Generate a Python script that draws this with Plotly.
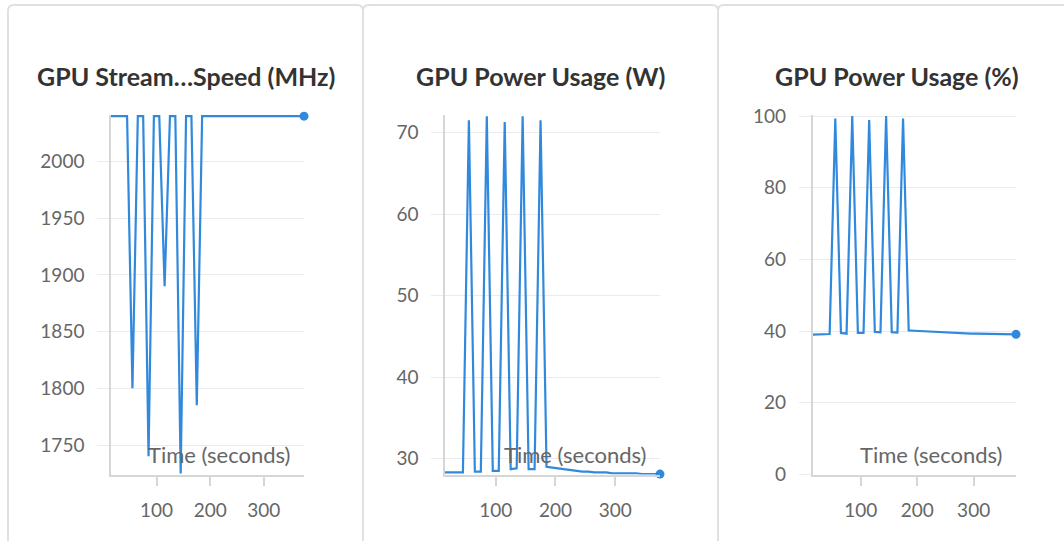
import plotly.graph_objects as go

# ---------------- data ----------------
time_s = [15, 25, 35, 45, 55, 65, 75, 85, 95, 105, 115, 125, 135, 145, 155, 165, 175,
          185, 195, 205, 215, 225, 235, 245, 255, 265, 275, 285, 295, 305, 315, 325,
          335, 345, 355, 365, 375]

sm_clock_mhz = [2040, 2040, 2040, 2040, 1800, 2040, 2040, 1740, 2040, 2040, 1890, 2040,
                2040, 1725, 2040, 2040, 1785, 2040, 2040, 2040, 2040, 2040, 2040, 2040,
                2040, 2040, 2040, 2040, 2040, 2040, 2040, 2040, 2040, 2040, 2040, 2040, 2040]

power_w = [28.3, 28.3, 28.3, 28.3, 71.5, 28.4, 28.4, 72.0, 28.5, 28.5, 71.3, 28.7,
           28.8, 72.0, 28.7, 28.7, 71.5, 29.0, 28.9, 28.8, 28.7, 28.6, 28.5, 28.4,
           28.4, 28.3, 28.3, 28.3, 28.2, 28.2, 28.2, 28.2, 28.2, 28.1, 28.1, 28.1, 28.1]

power_pct = [39.0, 39.1, 39.1, 39.2, 99.3, 39.5, 39.3, 100.0, 39.5, 39.5, 98.9, 39.8,
             39.7, 100.0, 39.7, 39.6, 99.3, 40.2, 40.1, 40.0, 39.9, 39.8, 39.7, 39.6,
             39.5, 39.5, 39.4, 39.4, 39.3, 39.3, 39.3, 39.2, 39.2, 39.2, 39.1, 39.1, 39.1]

titles = ["GPU Stream…Speed (MHz)", "GPU Power Usage (W)", "GPU Power Usage (%)"]
x_title = "Time (seconds)"
x_ticks = [100, 200, 300]
y_ticks_clock = [1750, 1800, 1850, 1900, 1950, 2000]
y_ticks_w = [30, 40, 50, 60, 70]
y_ticks_pct = [0, 20, 40, 60, 80, 100]

# ---------------- styling / layout ----------------
W, H = 1064, 541
LINE = "#3089dd"
GRID = "#ebebeb"
AXIS = "#d6d6d6"
FONT = "Lato"
LABEL = "#666666"

plot_top, plot_bottom = 115, 474.5
panels = [
    dict(x0=111, x1=304, card=(8, 363), y=sm_clock_mhz, ticks=y_ticks_clock, rng=[1724, 2041]),
    dict(x0=445, x1=660, card=(363, 718), y=power_w, ticks=y_ticks_w, rng=[28.05, 72.15]),
    dict(x0=812.7, x1=1016, card=(718, 1075), y=power_pct, ticks=y_ticks_pct, rng=[0, 100.3]),
]

fig = go.Figure()
shapes = []
annotations = []

for i, p in enumerate(panels):
    n = "" if i == 0 else str(i + 1)
    xa, ya = "x" + n, "y" + n
    fig.add_trace(go.Scatter(x=time_s, y=p["y"], mode="lines", xaxis=xa, yaxis=ya,
                             line=dict(color=LINE, width=2.2), showlegend=False,
                             hoverinfo="x+y"))
    fig.add_trace(go.Scatter(x=[time_s[-1]], y=[p["y"][-1]], mode="markers", xaxis=xa, yaxis=ya,
                             marker=dict(color=LINE, size=9), cliponaxis=False,
                             showlegend=False))
    dom_x = [p["x0"] / W, p["x1"] / W]
    dom_y = [1 - plot_bottom / H, 1 - plot_top / H]
    fig.layout["xaxis" + n] = dict(
        domain=dom_x, anchor=ya, range=[time_s[0], time_s[-1]], automargin=False,
        tickvals=x_ticks, showgrid=False, zeroline=False,
        showline=True, linecolor=AXIS, linewidth=1.5,
        ticks="outside", ticklen=10, tickcolor=AXIS, tickwidth=1.5,
        ticklabelstandoff=8,
        tickfont=dict(family=FONT, size=19, color=LABEL),
    )
    fig.layout["yaxis" + n] = dict(
        domain=dom_y, anchor=xa, range=p["rng"], automargin=False,
        tickvals=p["ticks"], showgrid=True, gridcolor=GRID, gridwidth=1.2,
        zeroline=False, showline=True, linecolor=AXIS, linewidth=1.5,
        ticks="outside", ticklen=12, tickcolor=GRID, tickwidth=1.2,
        ticklabelstandoff=9,
        tickfont=dict(family=FONT, size=19, color=LABEL),
    )
    # card outline
    c0, c1 = p["card"]
    r = 6
    top = -5
    bot = -H
    path = (f"M {c0},{bot} L {c0},{top - r} Q {c0},{top} {c0 + r},{top} "
            f"L {c1 - r},{top} Q {c1},{top} {c1},{top - r} L {c1},{bot}")
    shapes.append(dict(type="path", path=path, xref="paper", yref="paper",
                       xsizemode="pixel", ysizemode="pixel", xanchor=0, yanchor=1,
                       line=dict(color="#e0e0e0", width=2), layer="below"))
    # title
    annotations.append(dict(text=f"<b>{titles[i]}</b>", xref="paper", yref="paper",
                            x=((c0 + c1) / 2) / W, y=1 - 76 / H, xanchor="center", yanchor="middle",
                            showarrow=False, font=dict(family=FONT, size=25, color="#333333")))
    # axis title inside the plot
    annotations.append(dict(text=x_title, xref=xa + " domain", yref=ya + " domain",
                            x=1, y=0, xanchor="right", yanchor="middle", xshift=-12, yshift=20,
                            showarrow=False, font=dict(family=FONT, size=22, color=LABEL)))

fig.update_layout(
    width=W, height=H, margin=dict(l=0, r=0, t=0, b=0, autoexpand=False),
    paper_bgcolor="white", plot_bgcolor="white",
    shapes=shapes, annotations=annotations,
    font=dict(family=FONT),
)

fig.write_html("out.html", config={"displayModeBar": False},
               post_script="document.body.style.margin='0';")
